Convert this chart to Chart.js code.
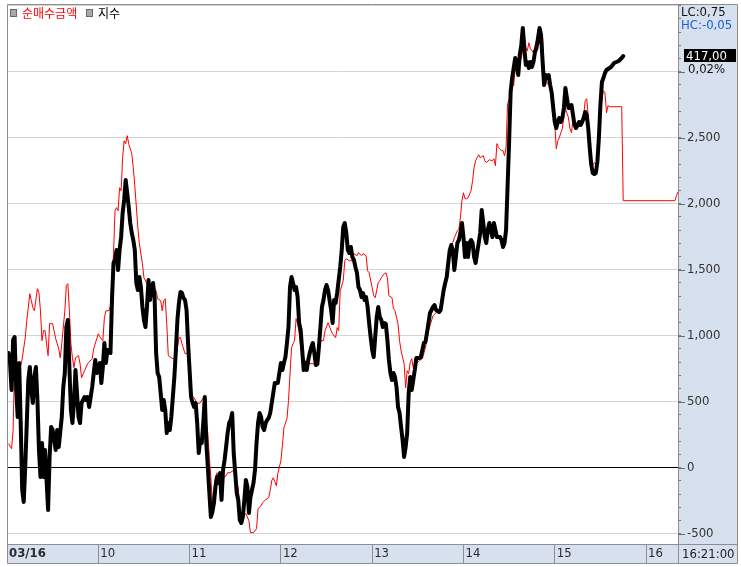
<!DOCTYPE html>
<html><head><meta charset="utf-8">
<script src="https://cdn.jsdelivr.net/npm/chart.js@4/dist/chart.umd.min.js"></script>
<style>
html,body{margin:0;padding:0;background:#fff;}
#wrap{position:relative;width:741px;height:567px;overflow:hidden;}
canvas{position:absolute;left:0;top:0;}
.t{position:absolute;font-family:'Liberation Sans Narrow','DejaVu Sans Condensed',sans-serif;font-size:13px;line-height:13px;white-space:nowrap;color:#1a1a1a;}
.k{position:absolute;font-family:'Noto Sans CJK KR',sans-serif;font-size:12px;line-height:14px;white-space:nowrap;}
.sq{position:absolute;width:5px;height:6px;background:#a8a8a8;border:1px solid #6a6a6a;}
</style></head><body>
<div id="wrap">
<canvas id="c" width="741" height="567"></canvas>
<div class="sq" style="left:10px;top:9px"></div>
<div class="k" style="left:22px;top:6px;color:#ff0000">순매수금액</div>
<div class="sq" style="left:86px;top:9px"></div>
<div class="k" style="left:98px;top:6px;color:#000">지수</div>
<div class="t" style="left:681px;top:5px;color:#111">LC:0,75</div>
<div class="t" style="left:681px;top:18px;color:#1a5fd6">HC:-0,05</div>
<div class="t" style="left:684px;top:49px;width:52px;height:13px;background:#000;color:#fff;padding-left:2px;box-sizing:border-box">417,00</div>
<div class="t" style="left:688px;top:62px;color:#111">0,02%</div>
<div class="t" style="left:682px;top:547px;color:#222">16:21:00</div>
</div>
<script>
// x axis: minutes after 09:00 on 03/16
const hourTicks = [0, 60, 120, 180, 240, 300, 360, 420];
const hourLabels = ['03/16', '10', '11', '12', '13', '14', '15', '16'];
const yMajorTicks = [-500, 0, 500, 1000, 1500, 2000, 2500, 3000];

// 순매수금액 (net buy amount) : [minute, value]
const netBuy = [
[1,182],[3,144],[4,280],[5,795],[9,773],[10,826],[12,985],[13,1114],[15,1318],[16,1265],[17,1212],[18,1189],[20,1356],[21,1326],[22,1189],[23,962],[24,1038],[25,1040],[26,939],[27,849],[28,1091],[30,1091],[32,977],[34,902],[35,833],[36,939],[38,1189],[39,1379],[40,1394],[41,1189],[42,939],[43,833],[44,758],[45,833],[47,849],[48,788],[49,682],[51,735],[53,788],[56,826],[57,902],[60,1015],[61,992],[63,962],[64,1136],[65,1189],[67,1189],[68,1227],[69,1439],[70,1621],[71,1947],[72,1970],[73,1947],[74,2121],[75,2099],[76,2349],[77,2477],[78,2455],[79,2515],[80,2455],[82,2379],[83,2273],[84,2136],[86,1818],[87,1697],[88,1621],[89,1545],[90,1439],[92,1394],[94,1394],[96,1356],[98,1341],[99,1280],[101,1265],[102,1189],[103,1265],[104,1280],[105,1091],[106,849],[109,826],[111,833],[113,985],[114,985],[115,939],[117,864],[118,864],[119,886],[120,561],[123,530],[125,485],[127,492],[129,530],[132,258],[133,76],[134,-76],[135,-265],[136,-174],[137,-76],[138,-38],[140,-98],[142,-76],[144,-61],[145,-38],[147,-38],[148,-23],[150,-45],[151,-121],[152,-152],[153,-348],[155,-364],[157,-348],[159,-402],[160,-492],[162,-492],[164,-462],[165,-311],[167,-288],[168,-265],[170,-242],[172,-227],[173,-174],[174,-98],[175,-76],[176,-106],[177,-136],[178,-45],[180,53],[181,167],[182,303],[184,371],[185,508],[187,909],[188,939],[189,962],[190,1129],[191,1091],[192,1023],[193,924],[195,833],[197,788],[199,788],[201,788],[204,788],[206,962],[208,962],[209,1038],[211,1099],[213,1038],[214,1015],[216,985],[217,1061],[218,1038],[219,1341],[221,1417],[222,1568],[223,1583],[225,1568],[227,1568],[228,1621],[230,1606],[231,1629],[233,1606],[234,1621],[236,1606],[237,1492],[238,1477],[240,1364],[241,1303],[242,1288],[244,1402],[245,1417],[246,1439],[248,1470],[249,1477],[250,1439],[251,1303],[253,1288],[254,1205],[255,1189],[257,1091],[258,962],[259,886],[261,788],[262,606],[263,735],[264,712],[265,795],[266,826],[267,758],[269,788],[271,811],[273,826],[275,909],[277,1038],[280,1152],[282,1174],[284,1189],[286,1265],[288,1394],[290,1470],[291,1621],[292,1667],[293,1705],[294,1742],[296,1796],[297,1811],[298,1894],[299,2023],[300,2083],[301,2038],[302,2038],[303,2045],[305,2099],[306,2174],[307,2273],[308,2326],[309,2349],[310,2371],[311,2349],[313,2364],[314,2326],[315,2311],[317,2333],[319,2326],[320,2341],[321,2288],[322,2455],[323,2424],[325,2402],[326,2402],[327,2364],[328,2424],[329,2758],[331,2818],[332,2917],[333,2894],[334,3023],[336,3099],[338,3099],[339,3174],[340,3273],[341,3182],[342,3159],[343,3220],[344,3174],[346,3144],[347,3197],[348,3235],[349,3235],[350,3212],[351,3273],[352,3250],[353,2985],[354,2985],[355,2909],[357,2894],[358,2818],[359,2743],[360,2614],[361,2417],[362,2477],[363,2500],[364,2538],[365,2568],[366,2667],[367,2720],[369,2652],[370,2568],[371,2538],[372,2644],[373,2606],[374,2568],[376,2591],[379,2667],[380,2780],[381,2796],[382,2667],[383,2439],[384,2341],[385,2288],[386,2311],[387,2303],[388,2326],[389,2462],[390,2720],[392,2856],[393,2841],[394,2689],[395,2743],[396,2735],[404,2735],[405,2023],[439,2023],[440,2061],[441,2091]
];

// 지수 (index) : [minute, value]
const indexLine = [
[1,411.06],[2,410.86],[3,410.32],[4,411.32],[5,411.38],[6,410.38],[7,409.78],[8,410.86],[9,409.66],[10,408.32],[11,408.08],[12,408.78],[13,409.66],[14,410.52],[15,410.78],[16,410.32],[17,410.06],[18,410.58],[19,410.78],[20,410.12],[21,409.12],[22,408.58],[23,409.26],[24,408.58],[25,409.12],[26,408.52],[27,407.92],[28,408.98],[29,409.58],[30,409.52],[32,409.12],[33,409.52],[34,409.18],[36,409.78],[37,410.38],[38,410.66],[39,411.58],[40,411.72],[41,410.78],[42,409.92],[43,409.66],[44,410.06],[45,410.72],[46,410.26],[47,409.78],[48,409.66],[49,410.06],[51,410.18],[52,410.12],[53,410.18],[54,409.98],[55,410.18],[56,410.38],[57,410.66],[58,410.92],[59,410.66],[60,410.72],[61,410.86],[62,410.46],[63,410.78],[64,411.26],[65,410.86],[66,411.12],[68,411.06],[69,412.12],[70,412.86],[71,412.92],[72,413.12],[73,412.72],[74,413.12],[75,413.38],[76,413.86],[77,414.12],[78,414.52],[79,414.26],[80,413.98],[81,413.66],[82,413.46],[83,413.32],[84,413.12],[85,412.46],[86,412.32],[87,412.58],[88,412.38],[89,411.98],[90,411.72],[91,411.58],[92,411.98],[93,412.52],[94,412.12],[95,412.32],[96,412.46],[97,412.18],[98,411.06],[99,410.66],[100,410.58],[101,410.26],[102,409.92],[103,410.12],[104,409.92],[105,409.46],[106,409.66],[107,409.52],[108,409.78],[109,410.18],[110,410.58],[111,411.12],[112,411.72],[113,412.06],[114,412.28],[115,412.26],[116,412.16],[117,412.12],[118,411.92],[119,411.26],[120,410.72],[121,410.18],[122,410.06],[123,409.98],[124,410.06],[125,409.66],[126,409.06],[127,409.32],[128,409.26],[129,409.66],[130,410.18],[131,409.26],[132,408.78],[133,408.26],[134,407.78],[135,407.88],[136,408.06],[137,408.38],[138,408.58],[139,408.46],[140,408.66],[141,408.12],[142,408.72],[143,408.92],[144,409.18],[145,409.46],[146,409.66],[147,409.72],[148,409.86],[149,409.06],[150,408.66],[151,408.26],[152,408.12],[153,407.72],[154,407.66],[155,407.78],[156,408.12],[157,408.52],[158,408.38],[159,407.86],[160,408.18],[161,408.32],[162,408.46],[163,408.72],[164,409.26],[165,409.66],[166,409.86],[167,409.78],[168,409.58],[169,409.52],[170,409.66],[171,409.72],[172,409.76],[173,409.86],[174,410.06],[175,410.26],[176,410.46],[178,410.46],[179,410.66],[180,410.86],[181,410.72],[182,410.86],[183,410.98],[184,411.26],[185,411.58],[186,412.38],[187,412.58],[188,412.46],[189,412.32],[190,412.38],[191,412.18],[192,411.66],[193,411.52],[194,411.12],[195,410.72],[196,410.86],[197,410.72],[198,410.92],[199,411.06],[200,411.18],[201,411.26],[202,411.06],[203,410.82],[204,410.84],[205,411.18],[206,411.58],[207,411.98],[208,412.12],[209,412.32],[210,412.42],[211,412.32],[212,412.12],[213,411.92],[214,411.66],[215,412.12],[216,412.06],[217,412.26],[218,412.52],[219,412.78],[220,413.12],[221,413.58],[222,413.66],[223,413.46],[224,413.12],[225,413.06],[226,413.18],[227,412.98],[228,412.92],[229,412.78],[230,412.66],[231,412.38],[232,412.32],[233,412.18],[234,412.26],[235,412.12],[236,412.18],[237,411.98],[238,411.66],[239,411.38],[240,411.12],[241,410.98],[242,411.38],[243,411.78],[244,411.98],[245,411.78],[246,411.72],[247,411.58],[248,411.66],[249,411.64],[250,411.32],[251,410.92],[252,410.66],[253,410.52],[254,410.66],[255,410.58],[256,410.38],[257,409.98],[258,409.86],[259,409.58],[260,409.32],[261,408.98],[262,409.18],[263,409.46],[264,410.26],[265,410.58],[266,410.32],[267,410.52],[268,410.72],[269,410.96],[271,410.96],[272,410.98],[273,411.12],[274,411.26],[275,411.28],[276,411.46],[277,411.66],[278,411.86],[280,411.98],[281,412.02],[282,411.92],[284,411.88],[285,411.92],[286,412.12],[287,412.32],[288,412.46],[289,412.58],[290,412.86],[291,413.12],[292,413.22],[293,413.12],[294,412.72],[295,412.98],[296,413.26],[297,413.32],[298,413.46],[299,413.66],[300,413.38],[301,412.98],[302,413.26],[303,412.98],[304,413.26],[305,413.32],[306,413.26],[307,412.98],[308,412.86],[309,413.06],[310,413.26],[311,413.46],[312,413.92],[313,413.66],[314,413.38],[315,413.26],[316,413.52],[317,413.66],[318,413.52],[319,413.38],[320,413.66],[321,413.52],[322,413.38],[323,413.38],[324,413.38],[325,413.32],[326,413.18],[327,413.26],[328,413.52],[329,414.40],[330,415.28],[331,416.28],[332,416.56],[333,416.76],[334,416.96],[335,416.82],[336,416.62],[337,417.02],[338,417.22],[339,417.56],[340,417.16],[341,416.82],[342,416.88],[343,416.76],[344,416.88],[345,416.78],[346,416.88],[347,417.08],[348,417.16],[349,417.36],[350,417.56],[351,417.42],[352,416.90],[353,416.42],[354,416.62],[355,416.56],[356,416.62],[357,416.42],[358,416.26],[359,415.96],[360,415.68],[361,415.56],[362,415.68],[363,415.76],[364,415.68],[365,415.76],[366,415.96],[367,416.36],[368,416.16],[369,415.96],[370,415.96],[371,416.02],[372,415.82],[373,415.62],[374,415.56],[375,415.62],[376,415.68],[377,415.62],[378,415.68],[379,415.76],[380,415.88],[381,415.82],[382,415.56],[383,415.16],[384,414.82],[385,414.66],[386,414.64],[387,414.66],[388,414.88],[389,415.36],[390,416.02],[391,416.48],[392,416.56],[393,416.66],[394,416.72],[397,416.78],[399,416.86],[402,416.90],[404,416.96],[405,417.00]
];

const FONT = "'Liberation Sans Narrow','DejaVu Sans Condensed',sans-serif";
const PANEL = '#d6e0ee';
const EDGE = '#8e8e8e';
const RIGHT_EDGE = 737, BAND_BOTTOM = 563;

const frame = {
  id: 'frame',
  beforeDraw(chart) {
    const {ctx, chartArea: a} = chart;
    ctx.save();
    ctx.fillStyle = '#fff';
    ctx.fillRect(0, 0, chart.width, chart.height);
    ctx.fillStyle = PANEL;
    ctx.fillRect(a.right, a.top, RIGHT_EDGE - a.right, BAND_BOTTOM - a.top);
    ctx.fillRect(a.left, a.bottom, a.right - a.left, BAND_BOTTOM - a.bottom);
    ctx.restore();
  },
  afterDraw(chart) {
    const {ctx, chartArea: a, scales} = chart;
    ctx.save();
    ctx.strokeStyle = EDGE;
    ctx.lineWidth = 1;
    ctx.beginPath();
    ctx.rect(a.left + 0.5, a.top + 0.5, RIGHT_EDGE - a.left, BAND_BOTTOM - a.top);
    ctx.moveTo(a.left, a.bottom + 0.5); ctx.lineTo(RIGHT_EDGE, a.bottom + 0.5);
    ctx.moveTo(a.right + 0.5, a.top); ctx.lineTo(a.right + 0.5, BAND_BOTTOM);
    ctx.stroke();
    const y = scales.y;
    ctx.strokeStyle = '#6e6e6e';
    ctx.beginPath();
    yMajorTicks.forEach(v => {
      const p = Math.round(y.getPixelForValue(v)) + 0.5;
      ctx.moveTo(a.right, p); ctx.lineTo(a.right + 7, p);
    });
    ctx.stroke();
    ctx.restore();
  }
};

new Chart(document.getElementById('c'), {
  type: 'line',
  data: {
    datasets: [
      {label: '지수', data: indexLine.map(p => ({x: p[0], y: p[1]})), yAxisID: 'y2',
       borderColor: '#000', borderWidth: 4, pointRadius: 0, tension: 0,
       borderJoinStyle: 'round', borderCapStyle: 'round'},
      {label: '순매수금액', data: netBuy.map(p => ({x: p[0], y: p[1]})), yAxisID: 'y',
       borderColor: '#ff0000', borderWidth: 1, pointRadius: 0, tension: 0}
    ]
  },
  options: {
    responsive: false, animation: false, events: [],
    layout: {padding: {left: 7, top: 4, right: 4, bottom: 4}},
    plugins: {legend: {display: false}, tooltip: {enabled: false}},
    scales: {
      x: {
        type: 'linear', min: 0, max: 441, position: 'bottom',
        afterBuildTicks(s) { s.ticks = hourTicks.map(v => ({value: v})); },
        afterFit(s) { s.height = 19; s.paddingLeft = 0; s.paddingRight = 0; },
        grid: {drawOnChartArea: false, drawTicks: true, tickLength: 19, color: EDGE, tickColor: EDGE},
        border: {display: false},
        ticks: {
          autoSkip: false, maxRotation: 0, minRotation: 0, align: 'start', labelOffset: 2, padding: -17,
          color: '#2a2a2a',
          font: c => ({family: FONT, size: 13, weight: (c.tick && c.tick.value === 0) ? 'bold' : 'normal'}),
          callback: (v, i) => hourLabels[i]
        }
      },
      y: {
        type: 'linear', position: 'right', min: -578, max: 3513,
        afterBuildTicks(s) { const t = []; for (let v = -500; v <= 3500; v += 100) t.push({value: v}); s.ticks = t; },
        afterFit(s) { s.width = 59; s.paddingTop = 0; s.paddingBottom = 0; },
        grid: {
          drawTicks: true, tickLength: 3, lineWidth: 1, tickColor: '#7a7a7a',
          color: c => c.tick.value === 0 ? '#000' : (c.tick.value % 500 === 0 ? '#d4d4d4' : 'rgba(0,0,0,0)')
        },
        border: {display: false},
        ticks: {
          autoSkip: false, padding: 6, color: '#333', font: {family: FONT, size: 13},
          callback: v => (v % 500 === 0 && v !== 3000 && v !== 3500) ? v.toLocaleString('en-US') : ''
        }
      },
      y2: {type: 'linear', display: false, min: 407.24, max: 418.04}
    }
  },
  plugins: [frame]
});
</script>
</body></html>
